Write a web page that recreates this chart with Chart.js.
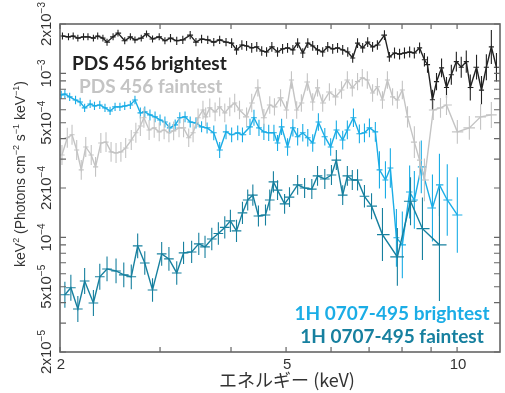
<!DOCTYPE html>
<html><head><meta charset="utf-8">
<script src="https://cdn.jsdelivr.net/npm/chart.js@4.4.1/dist/chart.umd.min.js"></script>
<style>html,body{margin:0;padding:0;background:#fff}</style>
</head><body>
<canvas id="c" width="505" height="393"></canvas>
<script>
// ---------- DATA (energy keV, flux keV^2 Photons cm^-2 s^-1 keV^-1, relative error) ----------
const pdsBrightE=[2.02,2.07,2.11,2.15,2.20,2.24,2.29,2.33,2.38,2.42,
2.48,2.53,2.60,2.66,2.71,2.78,2.84,2.91,2.99,3.06,
3.13,3.21,3.29,3.39,3.47,3.55,3.64,3.73,3.82,3.92,
4.01,4.09,4.18,4.26,4.35,4.44,4.53,4.62,4.72,4.83,
4.93,5.03,5.14,5.24,5.35,5.46,5.57,5.68,5.80,5.92,
6.04,6.16,6.29,6.42,6.55,6.68,6.82,6.96,7.10,7.24,
7.45,7.60,7.76,7.92,8.08,8.25,8.41,8.59,8.76,8.87,
9.05,9.20,9.39,9.58,9.77,9.97,10.17,10.38,10.55,10.82,
11.04,11.26,11.49,11.73];
const pdsBrightF=[1.69e-3,1.67e-3,1.69e-3,1.64e-3,1.67e-3,1.67e-3,1.64e-3,1.69e-3,1.64e-3,1.55e-3,
1.67e-3,1.76e-3,1.58e-3,1.67e-3,1.60e-3,1.64e-3,1.74e-3,1.62e-3,1.67e-3,1.58e-3,
1.64e-3,1.58e-3,1.60e-3,1.71e-3,1.55e-3,1.62e-3,1.60e-3,1.55e-3,1.60e-3,1.55e-3,
1.53e-3,1.39e-3,1.49e-3,1.47e-3,1.43e-3,1.45e-3,1.37e-3,1.35e-3,1.45e-3,1.35e-3,
1.41e-3,1.43e-3,1.39e-3,1.53e-3,1.33e-3,1.53e-3,1.47e-3,1.39e-3,1.35e-3,1.45e-3,
1.41e-3,1.43e-3,1.39e-3,1.35e-3,1.24e-3,1.53e-3,1.43e-3,1.55e-3,1.45e-3,1.49e-3,
1.71e-3,1.26e-3,1.33e-3,1.31e-3,1.33e-3,1.35e-3,1.33e-3,1.43e-3,1.21e-3,1.13e-3,
0.69e-3,0.89e-3,1.08e-3,0.82e-3,0.98e-3,1.18e-3,1.09e-3,1.18e-3,0.82e-3,1.09e-3,
0.79e-3,1.09e-3,1.45e-3,1.09e-3];
const pdsBrightErr=[0.05,0.05,0.05,0.05,0.05,0.05,0.05,0.05,0.05,0.05,
0.05,0.05,0.05,0.05,0.05,0.05,0.05,0.05,0.05,0.05,
0.06,0.06,0.06,0.06,0.06,0.06,0.06,0.06,0.06,0.06,
0.07,0.07,0.07,0.07,0.07,0.07,0.07,0.07,0.07,0.07,
0.07,0.07,0.07,0.07,0.07,0.07,0.07,0.07,0.07,0.07,
0.07,0.07,0.07,0.07,0.07,0.07,0.07,0.07,0.07,0.07,
0.07,0.07,0.08,0.08,0.08,0.08,0.08,0.08,0.10,0.12,
0.15,0.13,0.14,0.16,0.15,0.15,0.16,0.17,0.20,0.19,
0.22,0.20,0.27,0.22];

const pdsFaintE=[2.016,2.06,2.10,2.14,2.18,2.22,2.27,2.31,2.36,2.41,
2.46,2.51,2.56,2.61,2.67,2.72,2.77,2.81,2.87,2.93,
2.99,3.05,3.11,3.17,3.24,3.30,3.37,3.43,3.50,3.57,
3.61,3.67,3.75,3.82,3.90,3.98,4.06,4.14,4.26,4.35,
4.46,4.57,4.68,4.77,4.89,5.01,5.11,5.22,5.32,5.45,
5.57,5.68,5.80,5.96,6.11,6.26,6.41,6.54,6.68,6.81,
6.95,7.10,7.24,7.39,7.54,7.70,7.85,8.01,8.18,8.41,
8.59,8.76,9.08,9.35,9.58,10.01,10.51,11.00,11.49];
const pdsFaintF=[3.18e-4,4.05e-4,4.22e-4,3.41e-4,2.58e-4,3.56e-4,3.18e-4,2.69e-4,3.76e-4,3.81e-4,
3.32e-4,3.27e-4,3.32e-4,3.51e-4,3.92e-4,4.34e-4,4.78e-4,5.36e-4,4.52e-4,4.65e-4,
4.40e-4,4.52e-4,4.34e-4,4.46e-4,4.65e-4,4.65e-4,4.05e-4,4.34e-4,5.36e-4,5.98e-4,
5.43e-4,6.16e-4,5.82e-4,6.25e-4,5.74e-4,6.25e-4,6.60e-4,5.98e-4,5.43e-4,6.60e-4,
8.16e-4,5.36e-4,6.42e-4,6.25e-4,7.09e-4,5.98e-4,9.11e-4,5.98e-4,6.60e-4,8.86e-4,
6.69e-4,8.16e-4,6.60e-4,7.70e-4,7.19e-4,7.92e-4,9.11e-4,8.16e-4,8.90e-4,9.40e-4,
9.11e-4,7.59e-4,8.28e-4,6.88e-4,9.11e-4,7.19e-4,6.88e-4,7.92e-4,5.43e-4,3.81e-4,
2.96e-4,2.24e-4,5.98e-4,6.16e-4,6.42e-4,4.40e-4,4.65e-4,5.43e-4,5.58e-4];
const pdsFaintErr=[0.15,0.15,0.15,0.15,0.15,0.15,0.15,0.15,0.15,0.15,
0.15,0.15,0.15,0.15,0.15,0.15,0.15,0.15,0.15,0.15,
0.14,0.14,0.14,0.14,0.14,0.14,0.14,0.14,0.14,0.14,
0.14,0.14,0.14,0.14,0.14,0.14,0.14,0.14,0.14,0.14,
0.13,0.13,0.13,0.13,0.13,0.13,0.13,0.13,0.13,0.13,
0.13,0.13,0.13,0.13,0.13,0.13,0.13,0.13,0.13,0.13,
0.13,0.13,0.13,0.13,0.13,0.13,0.13,0.14,0.16,0.25,
0.30,0.35,0.15,0.15,0.15,0.18,0.18,0.20,0.20];

const h1BrightE=[2.01,2.04,2.08,2.13,2.17,2.21,2.26,2.30,2.35,2.40,
2.45,2.50,2.55,2.60,2.66,2.71,2.77,2.82,2.88,2.94,
3.00,3.06,3.12,3.19,3.25,3.32,3.39,3.47,3.55,3.63,
3.73,3.82,3.92,4.01,4.11,4.19,4.32,4.39,4.48,4.57,
4.66,4.76,4.83,4.91,5.03,5.14,5.24,5.35,5.46,5.57,
5.70,5.85,5.99,6.13,6.29,6.41,6.57,6.73,6.87,7.01,
7.18,7.30,7.48,7.63,7.82,8.01,8.25,8.41,8.65,9.05,
9.31,9.61,10.01];
const h1BrightF=[7.39e-4,7.49e-4,7.19e-4,6.88e-4,6.69e-4,6.16e-4,6.51e-4,6.33e-4,6.42e-4,6.16e-4,
5.90e-4,6.25e-4,6.25e-4,6.33e-4,6.42e-4,6.88e-4,5.74e-4,5.82e-4,5.58e-4,5.43e-4,
5.20e-4,5.05e-4,4.65e-4,4.85e-4,5.36e-4,5.43e-4,5.05e-4,4.98e-4,4.72e-4,4.65e-4,
4.34e-4,3.41e-4,4.40e-4,4.22e-4,4.34e-4,4.22e-4,4.72e-4,5.36e-4,4.65e-4,4.40e-4,
4.34e-4,4.34e-4,3.76e-4,4.72e-4,3.56e-4,4.65e-4,4.11e-4,4.34e-4,4.05e-4,3.76e-4,
5.05e-4,4.11e-4,3.56e-4,4.52e-4,3.92e-4,4.52e-4,5.36e-4,4.28e-4,4.34e-4,4.65e-4,
4.40e-4,2.58e-4,2.24e-4,2.65e-4,9.94e-5,9.00e-5,1.89e-4,1.69e-4,2.69e-4,1.51e-4,
2.09e-4,1.69e-4,1.37e-4];
const h1BrightErr=[0.06,0.06,0.06,0.06,0.06,0.06,0.06,0.06,0.06,0.06,
0.06,0.06,0.06,0.06,0.06,0.06,0.08,0.08,0.08,0.08,
0.08,0.08,0.08,0.08,0.08,0.08,0.08,0.08,0.08,0.08,
0.11,0.12,0.11,0.11,0.11,0.11,0.12,0.12,0.12,0.12,
0.12,0.12,0.12,0.12,0.13,0.13,0.13,0.13,0.13,0.13,
0.13,0.13,0.13,0.14,0.14,0.14,0.14,0.14,0.14,0.14,
0.15,0.30,0.30,0.32,0.50,0.60,0.45,0.50,0.45,0.60,
0.55,0.65,0.70];

const h1FaintE=[2.04,2.09,2.15,2.21,2.29,2.35,2.42,2.51,2.59,2.67,
2.74,2.82,2.91,3.02,3.11,3.21,3.30,3.41,3.51,3.60,
3.70,3.80,3.90,3.99,4.09,4.19,4.28,4.37,4.47,4.60,
4.68,4.75,4.83,4.97,5.07,5.24,5.39,5.55,5.68,5.85,
6.01,6.13,6.29,6.41,6.54,6.68,6.87,7.07,7.39,7.85,
8.28,8.69,9.31];
const h1FaintF=[4.47e-5,4.93e-5,3.66e-5,5.42e-5,3.98e-5,5.75e-5,6.42e-5,6.24e-5,5.91e-5,5.75e-5,
8.88e-5,6.98e-5,4.78e-5,7.93e-5,7.39e-5,6.07e-5,8.04e-5,8.15e-5,9.13e-5,8.75e-5,
9.78e-5,1.055e-4,1.15e-4,1.26e-4,1.095e-4,1.41e-4,1.69e-4,1.81e-4,1.35e-4,1.37e-4,
1.69e-4,2.18e-4,1.94e-4,1.60e-4,1.76e-4,2.09e-4,2.00e-4,1.97e-4,2.37e-4,2.27e-4,
2.40e-4,2.96e-4,1.81e-4,2.37e-4,2.24e-4,2.24e-4,1.78e-4,1.55e-4,1.04e-4,7.6e-5,
1.66e-4,1.13e-4,9.0e-5];
const h1FaintErr=[0.20,0.20,0.20,0.20,0.20,0.20,0.19,0.19,0.19,0.19,
0.19,0.18,0.18,0.18,0.18,0.18,0.17,0.17,0.17,0.17,
0.17,0.17,0.17,0.17,0.17,0.17,0.16,0.16,0.16,0.16,
0.16,0.16,0.15,0.15,0.15,0.15,0.15,0.15,0.15,0.15,
0.15,0.15,0.15,0.15,0.15,0.16,0.17,0.20,0.45,0.50,
0.40,0.55,1.20];

const seriesNames=['PDS 456 brightest','PDS 456 faintest','1H 0707-495 brightest','1H 0707-495 faintest'];
const xTickValues=[2,3,4,5,6,7,8,9,10];
const xTickLabels=['2','','','5','','','','','10'];
const yTickValues=[2e-5,3e-5,4e-5,5e-5,6e-5,7e-5,8e-5,9e-5,1e-4,2e-4,3e-4,4e-4,5e-4,6e-4,7e-4,8e-4,9e-4,1e-3,2e-3];
const yLabelValues=[2e-5,5e-5,1e-4,2e-4,5e-4,1e-3,2e-3];
const yLabelTexts=[['2x10','−5'],['5x10','−5'],['10','−4'],['2x10','−4'],['5x10','−4'],['10','−3'],['2x10','−3']];
const xTitle='エネルギー (keV)';
const yTitleParts=[['keV',0],['2',1],[' (Photons cm',0],['−2',1],[' s',0],['−1',1],[' keV',0],['−1',1],[')',0]];

// ---------- STYLE ----------
const COLORS={black:'#222222',gray:'#c4c4c4',light:'#1badE6',dark:'#17809f'};
const series=[
 {name:seriesNames[1],E:pdsFaintE,F:pdsFaintF,R:pdsFaintErr,color:COLORS.gray,hw:[0.0045,0.0105]},
 {name:seriesNames[3],E:h1FaintE,F:h1FaintF,R:h1FaintErr,color:COLORS.dark,hw:[0.0085,0.0125]},
 {name:seriesNames[2],E:h1BrightE,F:h1BrightF,R:h1BrightErr,color:COLORS.light,hw:[0.005,0.009]},
 {name:seriesNames[0],E:pdsBrightE,F:pdsBrightF,R:pdsBrightErr,color:COLORS.black,hw:[0.0045,0.0055]}
];

function drawRich(ctx,parts,x,y,size,family,weight){
  const supSize=Math.round(size*0.66);
  const mainFont=(weight||'normal')+' '+size+'px '+family;
  const supFont=(weight||'normal')+' '+supSize+'px '+family;
  let w=0;
  for(const [t,s] of parts){ctx.font=s?supFont:mainFont;w+=ctx.measureText(t).width;}
  let cx=x-w/2;
  ctx.textAlign='left';ctx.textBaseline='alphabetic';
  for(const [t,s] of parts){
    ctx.font=s?supFont:mainFont;
    ctx.fillText(t,cx,s?y-size*0.42:y);
    cx+=ctx.measureText(t).width;
  }
}

const errorBars={id:'errorBars',
 afterDatasetDraw(chart,args){
  const s=series[args.index];const ctx=chart.ctx;const xs=chart.scales.x,ys=chart.scales.y;const a=chart.chartArea;
  ctx.save();ctx.beginPath();ctx.rect(a.left,a.top,a.right-a.left,a.bottom-a.top);ctx.clip();
  ctx.strokeStyle=s.color;ctx.lineWidth=1.1;
  const n=s.E.length;
  for(let i=0;i<n;i++){
    const lx=Math.log10(s.E[i]);
    const gl=i>0?(lx-Math.log10(s.E[i-1]))/2:null;
    const gr=i<n-1?(Math.log10(s.E[i+1])-lx)/2:null;
    const cl=v=>Math.min(Math.max(v,s.hw[0]),s.hw[1]);
    const hl=cl(gl!==null?gl:gr), hr=cl(gr!==null?gr:gl);
    const x1=xs.getPixelForValue(Math.pow(10,lx-hl)),x2=xs.getPixelForValue(Math.pow(10,lx+hr));
    const px=xs.getPixelForValue(s.E[i]),py=ys.getPixelForValue(s.F[i]);
    const yt=ys.getPixelForValue(s.F[i]*(1+s.R[i])),yb=ys.getPixelForValue(s.F[i]/(1+s.R[i]));
    ctx.beginPath();ctx.moveTo(x1,py);ctx.lineTo(x2,py);ctx.moveTo(px,yt);ctx.lineTo(px,yb);ctx.stroke();
  }
  ctx.restore();
 }};

const axesDecor={id:'axesDecor',
 afterDraw(chart){
  const ctx=chart.ctx;const a=chart.chartArea;const xs=chart.scales.x,ys=chart.scales.y;
  ctx.save();
  ctx.strokeStyle='#666666';ctx.lineWidth=1.6;
  ctx.strokeRect(a.left,a.top,a.right-a.left,a.bottom-a.top);
  ctx.lineWidth=1.2;ctx.beginPath();
  for(const v of xTickValues){const x=xs.getPixelForValue(v);ctx.moveTo(x,a.bottom);ctx.lineTo(x,a.bottom-5);ctx.moveTo(x,a.top);ctx.lineTo(x,a.top+5);}
  for(const v of yTickValues){const y=ys.getPixelForValue(v);ctx.moveTo(a.left,y);ctx.lineTo(a.left+6,y);ctx.moveTo(a.right,y);ctx.lineTo(a.right-6,y);}
  ctx.stroke();
  // x tick labels
  ctx.fillStyle='#333';
  ctx.font='15px "Liberation Sans", Arial, sans-serif';ctx.textAlign='center';ctx.textBaseline='alphabetic';
  xTickValues.forEach((v,i)=>{if(xTickLabels[i])ctx.fillText(xTickLabels[i],xs.getPixelForValue(v)+1,369);});
  // y tick labels (rotated)
  yLabelValues.forEach((v,i)=>{
    const y=ys.getPixelForValue(v);
    ctx.save();ctx.translate(51,y);ctx.rotate(-Math.PI/2);
    drawRich(ctx,[[yLabelTexts[i][0],0],[yLabelTexts[i][1],1]],0,0,15,'"Liberation Sans", Arial, sans-serif');
    ctx.restore();
  });
  // y title
  ctx.save();ctx.translate(25,174);ctx.rotate(-Math.PI/2);
  drawRich(ctx,yTitleParts,0,0,14,'"Liberation Sans", Arial, sans-serif');
  ctx.restore();
  // x title
  ctx.font='18px "Noto Sans CJK JP", sans-serif';ctx.textAlign='center';ctx.fillStyle='#333';
  ctx.fillText(xTitle,287,387);
  // legend texts
  ctx.font='bold 19px Lato, sans-serif';ctx.textAlign='left';
  ctx.fillStyle=COLORS.black;ctx.fillText(seriesNames[0],72,70);
  ctx.fillStyle=COLORS.gray;ctx.fillText(seriesNames[1],79,93);
  ctx.textAlign='center';
  ctx.fillStyle=COLORS.light;ctx.fillText(seriesNames[2],392,320);
  ctx.fillStyle=COLORS.dark;ctx.fillText(seriesNames[3],392,343);
  ctx.restore();
 }};

new Chart(document.getElementById('c'),{
 type:'line',
 data:{datasets:series.map(s=>({label:s.name,data:s.E.map((x,i)=>({x:x,y:s.F[i]})),borderColor:s.color,backgroundColor:s.color,borderWidth:1.4,pointRadius:0,tension:0,fill:false}))},
 options:{responsive:false,devicePixelRatio:1,animation:false,
  layout:{padding:{left:60,top:24,right:5,bottom:41}},
  scales:{x:{type:'logarithmic',min:2,max:11.9,display:false},y:{type:'logarithmic',min:2e-5,max:2e-3,display:false}},
  plugins:{legend:{display:false},tooltip:{enabled:false}}},
 plugins:[errorBars,axesDecor]
});
</script>
</body></html>
